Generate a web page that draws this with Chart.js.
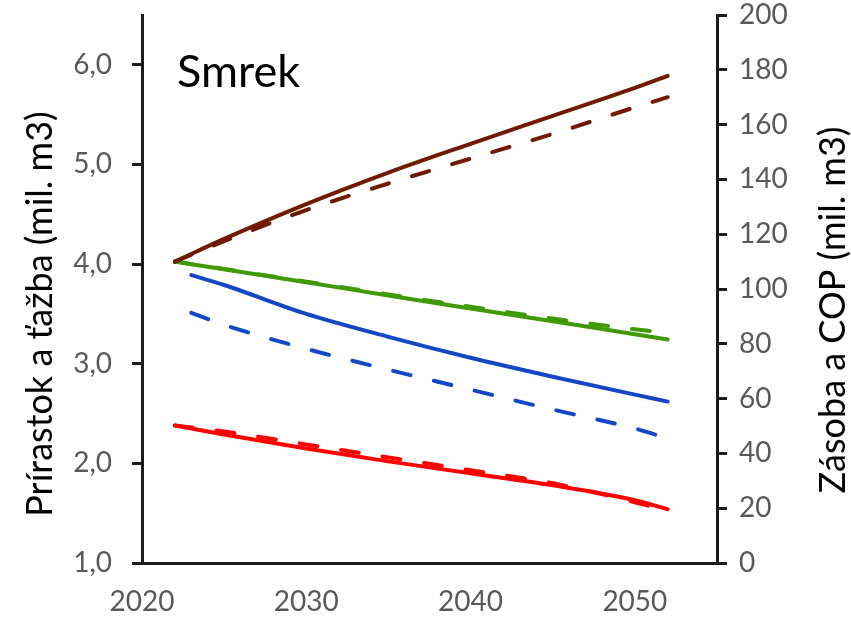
<!DOCTYPE html>
<html>
<head>
<meta charset="utf-8">
<title>Smrek</title>
<script src="https://cdn.jsdelivr.net/npm/chart.js@4/dist/chart.umd.min.js"></script>
<style>
	html, body { margin: 0; padding: 0; background: #fff; }
	#wrap { width: 851px; height: 620px; }
</style>
</head>
<body>
<div id="wrap"><canvas id="chart" width="851" height="620"></canvas></div>
<script>
"use strict";

const chartTitle = "Smrek";
const leftTitle = "Prírastok a ťažba (mil. m3)";
const rightTitle = "Zásoba a COP (mil. m3)";

const years = [2022, 2025, 2030, 2035, 2040, 2045, 2050, 2052];
const yearsIncrement = [2023, 2025, 2030, 2035, 2040, 2045, 2050, 2052];

// zásoba, right axis
const stockSolid = [110, 118.3, 131, 142.5, 153, 163.2, 173.4, 177.8];
const stockDashed = [110, 117.5, 128.8, 138.5, 147.6, 156.6, 166.3, 170];
// COP, right axis
const copSolid = [110, 107.2, 102.5, 97.6, 92.9, 88.2, 83.5, 81.6];
const copDashed = [110, 107.3, 102.7, 98, 93.5, 89.2, 85.3, 84];
// prírastok, left axis
const incrementSolid = [3.89, 3.79, 3.5, 3.27, 3.06, 2.87, 2.69, 2.62];
const incrementDashed = [3.51, 3.39, 3.15, 2.94, 2.74, 2.54, 2.35, 2.25];
// ťažba, left axis
const harvestSolid = [2.38, 2.29, 2.15, 2.02, 1.9, 1.78, 1.63, 1.54];
const harvestDashed = [2.38, 2.32, 2.19, 2.06, 1.93, 1.8, 1.61, 1.52];

const xTicks = [2020, 2030, 2040, 2050];
const leftTicks = [1, 2, 3, 4, 5, 6];
const rightTicks = [0, 20, 40, 60, 80, 100, 120, 140, 160, 180, 200];

const axisColor = "#1c1c1c";
const tickColor = "#595959";

function toPoints(xs, ys) {
	return xs.map((x, i) => ({ x: x, y: ys[i] }));
}

function makeLine(xs, ys, color, dashed, axis) {
	return {
		data: toPoints(xs, ys),
		borderColor: color,
		borderWidth: 4,
		borderDash: dashed ? [18, 24] : [],
		borderCapStyle: "round",
		pointRadius: 0,
		cubicInterpolationMode: "monotone",
		yAxisID: axis,
	};
}

function setTicks(values) {
	return (scale) => {
		scale.ticks = values.map((v) => ({ value: v }));
	};
}

// fixed axis sizes so the plot area sits where it does in the picture
function fixWidth(width) {
	return (scale) => {
		scale.width = width;
		scale.paddingTop = 0;
		scale.paddingBottom = 0;
	};
}

// titles drawn by hand, the right one reads bottom to top like the left one
const textPlugin = {
	id: "extraText",
	afterDraw(chart) {
		const ctx = chart.ctx;
		ctx.save();
		ctx.fillStyle = "#000";
		ctx.font = "45px Lato";
		ctx.textAlign = "left";
		ctx.textBaseline = "alphabetic";
		ctx.fillText(chartTitle, 177, 87);

		ctx.font = "36px Lato";
		ctx.textAlign = "center";
		ctx.textBaseline = "middle";
		[[leftTitle, 40, 314], [rightTitle, 833, 310]].forEach(([text, x, y]) => {
			ctx.save();
			ctx.translate(x, y);
			ctx.rotate(-Math.PI / 2);
			ctx.fillText(text, 0, 0);
			ctx.restore();
		});
		ctx.restore();
	},
};

Chart.defaults.font.family = "Lato";

new Chart(document.getElementById("chart"), {
	type: "line",
	data: {
		datasets: [
			makeLine(years, stockDashed, "#701a00", true, "y1"),
			makeLine(years, stockSolid, "#701a00", false, "y1"),
			makeLine(years, copDashed, "#3f9a06", true, "y1"),
			makeLine(years, copSolid, "#3f9a06", false, "y1"),
			makeLine(yearsIncrement, incrementDashed, "#1447c4", true, "y"),
			makeLine(yearsIncrement, incrementSolid, "#1447c4", false, "y"),
			makeLine(years, harvestDashed, "#ff0000", true, "y"),
			makeLine(years, harvestSolid, "#ff0000", false, "y"),
		],
	},
	options: {
		responsive: false,
		animation: false,
		layout: { padding: { top: 15, left: 0, right: 0, bottom: 0 } },
		plugins: {
			legend: { display: false },
			tooltip: { enabled: false },
		},
		scales: {
			x: {
				type: "linear",
				min: 2020,
				max: 2055,
				afterBuildTicks: setTicks(xTicks),
				afterFit: (scale) => {
					scale.height = 57;
					scale.paddingLeft = 0;
					scale.paddingRight = 0;
				},
				grid: { display: false, drawTicks: false },
				border: { display: true, color: axisColor, width: 3 },
				ticks: {
					color: tickColor,
					font: { size: 28 },
					padding: 22,
					maxRotation: 0,
					callback: (v) => String(v),
				},
			},
			y: {
				position: "left",
				min: 1,
				max: 6.5,
				afterBuildTicks: setTicks(leftTicks),
				afterFit: fixWidth(142),
				grid: { drawOnChartArea: false, drawTicks: true, tickLength: 10, color: axisColor, lineWidth: 3 },
				border: { display: true, color: axisColor, width: 3 },
				ticks: {
					color: tickColor,
					font: { size: 28 },
					padding: 20,
					callback: (v) => v.toFixed(1).replace(".", ","),
				},
			},
			y1: {
				position: "right",
				min: 0,
				max: 200,
				afterBuildTicks: setTicks(rightTicks),
				afterFit: fixWidth(134),
				grid: { drawOnChartArea: false, drawTicks: true, tickLength: 10, color: axisColor, lineWidth: 3 },
				border: { display: true, color: axisColor, width: 3 },
				ticks: {
					color: tickColor,
					font: { size: 28 },
					padding: 12,
				},
			},
		},
	},
	plugins: [textPlugin],
});
</script>
</body>
</html>
